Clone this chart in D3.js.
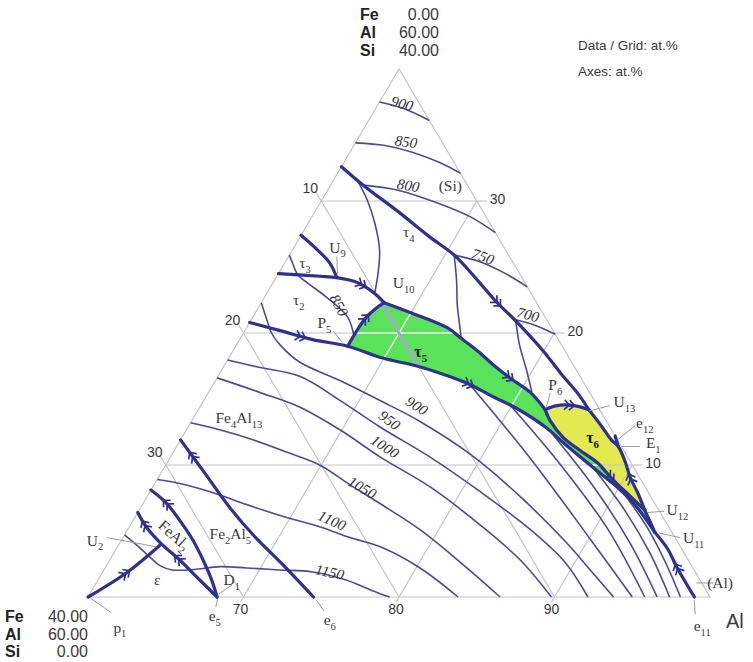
<!DOCTYPE html>
<meta charset="utf-8">
<style>
    body { margin: 0; background: #fff; }
    text { font-family: "Liberation Serif", "DejaVu Serif", serif; fill: #3a3a3a; }
    .sans { font-family: "Liberation Sans", Arial, sans-serif; }
    .grid { fill: none; stroke: #c4c4c4; stroke-width: 1.2; }
    .gridw { fill: none; stroke: #e8ffe8; stroke-width: 1.4; }
    .thin { fill: none; stroke: #4a4a9c; stroke-width: 1.6; }
    .thick { fill: none; stroke: #2e3190; stroke-width: 3.2; stroke-linejoin: round; stroke-linecap: round; }
    .lead { stroke: #9c9c9c; stroke-width: 1; }
    .arrow { fill: none; stroke: #2e3190; stroke-width: 1.7; }
</style>

<body>
    <script src="https://d3js.org/d3.v7.min.js"></script>
    <script>
        // every point is a composition [at.% Al, at.% Si], Fe is the balance

        // isotherms in the (Si) field
        var isoSi900 = [[60.0, 37.5], [61.8, 37.0], [63.9, 36.1]];
        var isoSi850 = [[60.0, 34.4], [62.0, 34.2], [64.0, 33.7], [66.2, 32.9], [67.9, 32.1]];
        var isoSi800 = [[62.1, 31.2], [64.6, 30.8], [67.7, 29.8], [70.2, 28.8], [72.4, 27.6]];
        var iso750 = [[70.6, 25.9], [72.5, 25.4], [74.6, 24.5], [76.5, 23.5]];
        var iso700 = [[77.0, 21.0], [78.4, 20.6], [80.1, 19.9]];
        var tau4Curve = [[61.7, 31.4], [62.9, 30.1], [64.3, 28.3], [65.6, 26.3], [66.4, 24.5], [66.9, 23.1]];
        var tau4Mid = [[70.6, 25.9], [71.7, 24.0], [72.7, 22.1], [73.6, 20.6], [74.2, 19.6]];
        var tau4Right = [[77.0, 21.0], [78.2, 19.1], [79.6, 17.2], [80.8, 15.5]];
        var iso850t2 = [[60.0, 25.9], [60.5, 25.3], [61.3, 24.4], [62.2, 23.8], [64.0, 22.7], [66.1, 21.2], [67.2, 19.8]];

        // isotherms in the Fe4Al13 / Fe2Al5 / FeAl2 / eps fields
        var iso900 = [[60.0, 22.3], [61.0, 21.0], [61.8, 20.0], [62.8, 19.1], [64.7, 17.8], [68.0, 16.4], [71.3, 14.9], [74.7, 13.3], [79.2, 10.8], [84.0, 7.6], [88.6, 4.2], [91.7, 1.7], [93.8, 0]];
        var iso950 = [[60.0, 17.95], [62.3, 17.4], [65.3, 16.7], [68.75, 14.9], [72.3, 12.9], [76.7, 10.6], [81.2, 8.0], [85.9, 5.1], [89.4, 2.6], [92.15, 0]];
        var iso1000 = [[60.0, 16.6], [63.3, 15.5], [66.4, 14.4], [69.9, 12.65], [73.5, 10.6], [77.9, 8.3], [82.5, 5.45], [86.4, 2.8], [89.8, 0]];
        var iso1050 = [[60.0, 13.2], [62.2, 12.65], [64.7, 11.9], [67.5, 10.9], [69.9, 10.0], [72.6, 8.5], [75.2, 7.1], [78.8, 5.1], [82.6, 2.65], [86.5, 0]];
        var iso1100 = [[60.0, 8.9], [61.6, 8.6], [64.1, 7.9], [66.7, 7.0], [69.2, 6.2], [72.3, 5.3], [74.6, 4.5], [76.9, 3.8], [80.25, 2.2], [83.8, 0]];
        var iso1150 = [[60.0, 4.7], [61.5, 3.7], [62.5, 3.0], [63.4, 2.4], [64.4, 2.05], [65.9, 2.1], [67.35, 2.3], [69.1, 2.2], [71.3, 2.05], [73.5, 1.9], [75.9, 1.3], [78.0, 0.5], [79.4, 0]];
        // lower isotherms leaving the tau5 valley
        var isoA = [[76.5, 16.1], [83.2, 10.5], [90.2, 4.3], [95.0, 0]];
        var isoB = [[79.8, 14.6], [85.4, 10.0], [90.9, 5.1], [95.8, 0]];
        var isoC = [[83.4, 12.6], [88.4, 8.3], [92.8, 4.1], [96.6, 0]];
        var isoD = [[87.25, 10.1], [91.2, 6.6], [94.5, 3.3], [97.4, 0]];
        var isoE = [[90.7, 7.7], [93.4, 5.2], [95.8, 2.65], [98.1, 0]];

        // monovariant lines
        var lineA = [[60.0, 32.6], [62.1, 31.2], [65.5, 29.1], [68.3, 27.3], [70.6, 25.9], [72.8, 24.2], [74.9, 22.5], [77.2, 20.8], [80.0, 18.6], [82.1, 16.8], [83.7, 15.5], [85.1, 14.2]];
        var lineB = [[60.0, 24.5], [61.4, 24.4], [62.8, 24.3], [63.9, 24.2], [65.2, 23.9], [66.1, 23.5], [67.0, 22.95], [67.9, 22.3]];
        var lineC = [[60.0, 27.4], [61.6, 26.3], [62.9, 25.3], [63.9, 24.2]];
        var lineD = [[60.0, 20.8], [62.2, 20.2], [64.7, 19.5], [67.2, 19.0], [69.9, 18.1], [72.4, 17.5], [74.9, 16.7], [76.5, 16.1], [78.4, 15.2], [80.4, 14.3], [83.1, 12.8], [84.7, 11.7], [87.9, 9.6], [89.9, 8.3], [91.9, 6.8], [94.0, 4.9]];
        var tau5Left = [[67.2, 19.0], [67.2, 20.2], [67.3, 21.2], [67.6, 21.9], [67.9, 22.3]];
        var tau5Top = [[67.9, 22.3], [70.1, 21.5], [72.9, 20.4], [74.2, 19.6], [75.8, 18.6], [77.4, 17.5], [79.0, 16.5], [80.7, 15.5], [82.3, 14.2]];
        var tau6Top = [[82.3, 14.2], [82.9, 14.5], [84.0, 14.5], [85.1, 14.2]];
        var tau6Left = [[82.3, 14.2], [83.1, 13.3], [84.5, 12.1], [86.1, 11.1], [87.7, 10.15], [89.3, 8.9], [91.1, 7.6], [92.5, 6.6]];
        var outerA = [[85.1, 14.2], [86.6, 12.9], [87.7, 11.9], [88.4, 11.4], [89.5, 10.15], [90.3, 9.1], [91.4, 7.9], [92.5, 6.6]];
        var outerB = [[92.5, 6.6], [93.3, 5.7], [94.0, 4.9]];
        var outerC = [[94.0, 4.9], [95.5, 3.6], [96.7, 2.3], [99.0, 0]];
        var e12Tick = [[87.8, 12.2], [88.4, 11.4]];
        var lineE = [[60.0, 11.9], [62.8, 9.4], [65.7, 6.8], [68.4, 4.6], [71.1, 2.6], [74.5, 0]];
        var lineF = [[60.0, 8.1], [61.5, 7.1], [63.0, 5.8], [64.6, 4.3], [66.0, 2.8], [67.3, 1.3], [68.3, 0]];
        var lineG = [[60.0, 6.4], [61.1, 5.3], [62.6, 4.1], [64.5, 2.8], [66.25, 1.5], [68.3, 0]];
        var lineH = [[60.0, 0], [61.6, 1.9], [62.7, 4.0]];
        var fe10Tie = [[67.7, 22.3], [72.4, 17.6]];

        var thinLines = [isoSi900, isoSi850, isoSi800, iso750, iso700, tau4Curve, tau4Mid, tau4Right, iso850t2,
            iso900, iso950, iso1000, iso1050, iso1100, iso1150, isoA, isoB, isoC, isoD, isoE];
        var thickLines = [lineA, lineB, lineC, lineD, tau5Left, tau5Top, tau6Top, tau6Left, outerA, outerB, outerC,
            e12Tick, lineE, lineF, lineG, lineH];

        // arrows: line, fraction of its length, reversed
        var arrows = [[lineB, 0.76, false], [tau5Left, 0.6, false], [lineD, 0.117, false], [lineD, 0.49, false],
            [tau5Top, 0.76, false], [lineA, 0.6, false], [tau6Top, 0.6, false], [tau6Left, 0.68, false],
            [outerA, 0.69, true], [outerC, 0.54, true], [lineE, 0.09, true], [lineF, 0.15, true],
            [lineG, 0.11, true], [lineG, 0.52, true], [lineH, 0.51, false]];

        // grid / tick values
        var feTicks = [10, 20, 30];
        var siTicks = [30, 20, 10];
        var alTicks = [70, 80, 90];

        // text labels: text, composition
        var phaseLabels = [["τ_4", [66.8, 27.65]], ["U_9", [62.8, 26.5]], ["τ_3", [61.3, 25.3]], ["U_10", [68.4, 23.8]],
            ["τ_2", [62.3, 22.5]], ["P_5", [64.8, 20.8]], ["P_6", [82.0, 16.1]], ["U_13", [87.1, 14.8]],
            ["e_12", [89.2, 13.2]], ["E_1", [90.5, 11.7]], ["U_12", [94.6, 6.6]], ["U_11", [96.7, 4.5]],
            ["(Al)", [100.1, 1.1]], ["e_11", [100.6, -2.2]], ["Fe_4Al_13", [62.9, 13.6]], ["Fe_2Al_5", [66.75, 4.8]],
            ["ε", [63.8, 1.3]], ["D_1", [68.6, 1.3]], ["U_2", [58.3, 4.3]], ["p_1", [63.2, -2.3]],
            ["e_5", [68.85, -1.4]], ["e_6", [76.4, -1.7]], ["(Si)", [67.7, 31.2]]];
        var boldLabels = [["τ_5", [72.1, 18.6]], ["τ_6", [86.4, 12.1]]];
        var isoLabels = [["900", [61.5, 37.4], 15], ["850", [63.2, 34.5], 8], ["800", [65.0, 31.2], 10],
            ["750", [72.5, 25.8], 20], ["700", [77.6, 21.4], 15], ["850", [65.1, 22.1], 62],
            ["900", [73.9, 14.5], 33], ["950", [72.7, 13.4], 36], ["1000", [73.4, 11.4], 33],
            ["1050", [73.5, 8.3], 30], ["1100", [72.8, 5.8], 24], ["1150", [74.6, 1.9], 12]];
        var rotLabels = [["FeAl_2", [63.2, 4.7], 42]];
        var leaders = [[[63.1, 25.8], [63.8, 24.5]], [[65.7, 20.15], [66.7, 19.3]], [[82.0, 15.45], [82.3, 14.3]],
            [[86.3, 14.5], [85.2, 14.1]], [[88.7, 13.0], [88.1, 11.9]], [[89.8, 11.4], [88.6, 11.4]],
            [[93.8, 6.5], [92.8, 6.4]], [[95.8, 4.5], [94.3, 4.85]], [[98.6, 1.06], [99.7, 1.06]],
            [[99.1, -0.23], [99.7, -1.3]], [[74.8, -0.23], [75.7, -1.06]], [[68.4, -0.15], [68.6, -0.76]],
            [[60.2, -0.08], [62.1, -1.2]], [[68.8, 0.9], [68.3, 0.23]], [[59.0, 4.5], [62.5, 3.8]]];

        var apexComp = ["0.00", "60.00", "40.00"];
        var leftComp = ["40.00", "60.00", "0.00"];
        var elements = ["Fe", "Al", "Si"];

        var width = 753, height = 662;
        var svg = d3.select("body").append("svg")
            .attr("width", width)
            .attr("height", height);

        var xAl = d3.scaleLinear().domain([60, 100]).range([88, 710]);
        var ySi = d3.scaleLinear().domain([0, 40]).range([597, 69]);
        function px(c) { return [xAl(c[0] + c[1] / 2), ySi(c[1])]; }

        var straight = d3.line().x(d => px(d)[0]).y(d => px(d)[1]);
        var smooth = d3.line().curve(d3.curveCatmullRom.alpha(0.5)).x(d => px(d)[0]).y(d => px(d)[1]);
        var ring = d3.line().curve(d3.curveLinearClosed).x(d => px(d)[0]).y(d => px(d)[1]);

        // fields
        var tau5 = tau5Left.concat(tau5Top.slice(1), tau6Left.slice(1), outerB.slice(1), lineD.slice(3).reverse().slice(1));
        var tau6 = tau6Top.concat(outerA.slice(1), tau6Left.slice().reverse().slice(1, -1));
        svg.append("path").attr("d", ring(tau5)).attr("fill", "#5ae35a");
        svg.append("path").attr("d", ring(tau6)).attr("fill", "#e3ea4f");
        svg.append("clipPath").attr("id", "clip5").append("path").attr("d", ring(tau5));

        // grid
        function drawGrid(g, cls) {
            feTicks.forEach(v => g.append("path").attr("class", cls).attr("d", straight([[60, 40 - v], [100 - v, 0]])));
            siTicks.forEach(v => g.append("path").attr("class", cls).attr("d", straight([[60, v], [100 - v, v]])));
            alTicks.forEach(a => g.append("path").attr("class", cls).attr("d", straight([[a, 0], [a, 100 - a]])));
        }
        var grid = svg.append("g");
        drawGrid(grid, "grid");
        grid.append("path").attr("class", "grid").attr("d", ring([[60, 40], [60, 0], [100, 0]]));
        drawGrid(svg.append("g").attr("clip-path", "url(#clip5)"), "gridw");

        // tick marks and tick labels
        feTicks.forEach(v => {
            var p = px([60, 40 - v]);
            grid.append("line").attr("class", "grid").attr("x1", p[0]).attr("y1", p[1]).attr("x2", p[0] - 6).attr("y2", p[1] - 10);
            svg.append("text").attr("class", "sans").attr("x", p[0] - 11).attr("y", p[1] - 13).attr("dy", "0.35em")
                .attr("text-anchor", "middle").attr("font-size", 14).text(v);
        });
        siTicks.forEach(v => {
            var p = px([100 - v, v]);
            grid.append("line").attr("class", "grid").attr("x1", p[0]).attr("y1", p[1]).attr("x2", p[0] + 10).attr("y2", p[1]);
            svg.append("text").attr("class", "sans").attr("x", p[0] + 13).attr("y", p[1] - 2).attr("dy", "0.35em")
                .attr("font-size", 14).text(v);
        });
        alTicks.forEach(a => {
            var p = px([a, 0]);
            grid.append("line").attr("class", "grid").attr("x1", p[0]).attr("y1", p[1]).attr("x2", p[0] - 3).attr("y2", p[1] + 5);
            svg.append("text").attr("class", "sans").attr("x", p[0] - 3).attr("y", p[1] + 12).attr("dy", "0.35em")
                .attr("text-anchor", "middle").attr("font-size", 14).text(a);
        });

        // tie line through tau5
        svg.append("path").attr("d", straight(fe10Tie)).attr("fill", "none")
            .attr("stroke", "#a7a7c6").attr("stroke-width", 3);

        // lines
        svg.append("g").selectAll("path").data(thinLines).enter().append("path")
            .attr("class", "thin").attr("d", smooth);
        svg.append("g").selectAll("path").data(thickLines).enter().append("path")
            .attr("class", "thick").attr("d", smooth);

        // double arrows
        var arrowG = svg.append("g");
        arrows.forEach(a => {
            var tmp = arrowG.append("path").attr("d", smooth(a[0]));
            var node = tmp.node(), L = node.getTotalLength();
            var s = a[1] * L;
            var p0 = node.getPointAtLength(Math.max(0, s - 1.5)), p1 = node.getPointAtLength(Math.min(L, s + 1.5));
            var c = node.getPointAtLength(s);
            tmp.remove();
            var ang = Math.atan2(p1.y - p0.y, p1.x - p0.x) * 180 / Math.PI + (a[2] ? 180 : 0);
            var ch = arrowG.append("g").attr("transform", "translate(" + c.x + "," + c.y + ") rotate(" + ang + ")");
            [-2, 3].forEach(o => ch.append("path").attr("class", "arrow")
                .attr("d", "M" + (o - 5) + ",-5L" + o + ",0L" + (o - 5) + ",5"));
        });

        // leader lines
        svg.append("g").selectAll("line").data(leaders).enter().append("line")
            .attr("class", "lead")
            .attr("x1", d => px(d[0])[0]).attr("y1", d => px(d[0])[1])
            .attr("x2", d => px(d[1])[0]).attr("y2", d => px(d[1])[1]);

        // text with subscripts, "_n" marks a subscript
        function rich(sel, str, size) {
            var shift = 0;
            str.split(/(_[0-9]+)/).filter(s => s).forEach(s => {
                if (s[0] === "_") {
                    sel.append("tspan").attr("font-size", size * 0.68).attr("dy", size * 0.3 - shift).text(s.slice(1));
                    shift = size * 0.3;
                } else {
                    sel.append("tspan").attr("font-size", size).attr("dy", -shift).text(s);
                    shift = 0;
                }
            });
        }
        function label(g, d, size, rot) {
            var p = px(d[1]);
            var t = g.append("text").attr("text-anchor", "middle")
                .attr("transform", "translate(" + p[0] + "," + p[1] + ")" + (rot ? " rotate(" + rot + ")" : ""))
                .attr("y", size * 0.35);
            rich(t, d[0], size);
            return t;
        }
        var lab = svg.append("g");
        phaseLabels.forEach(d => label(lab, d, 15.5));
        boldLabels.forEach(d => label(lab, d, 16).attr("font-weight", "bold").style("fill", "#111"));
        isoLabels.forEach(d => label(lab, d, 15, d[2]).attr("font-style", "italic").style("fill", "#333"));
        rotLabels.forEach(d => label(lab, d, 15.5, d[2]));

        // corner compositions
        var apex = px([60, 40]), left = px([60, 0]);
        elements.forEach((e, i) => {
            svg.append("text").attr("class", "sans").attr("x", apex[0] - 39).attr("y", 20 + i * 18)
                .attr("font-size", 16).attr("font-weight", "bold").style("fill", "#222").text(e);
            svg.append("text").attr("class", "sans").attr("x", apex[0] + 40).attr("y", 20 + i * 18)
                .attr("text-anchor", "end").attr("font-size", 16).text(apexComp[i]);
            svg.append("text").attr("class", "sans").attr("x", 5).attr("y", left[1] + 25 + i * 17.5)
                .attr("font-size", 16).attr("font-weight", "bold").style("fill", "#222").text(e);
            svg.append("text").attr("class", "sans").attr("x", left[0]).attr("y", left[1] + 25 + i * 17.5)
                .attr("text-anchor", "end").attr("font-size", 16).text(leftComp[i]);
        });
        var corner = px([100, 0]);
        svg.append("text").attr("class", "sans").attr("x", corner[0] + 16).attr("y", corner[1] + 31)
            .attr("font-size", 20).text("Al");
        svg.append("text").attr("class", "sans").attr("x", 578).attr("y", 50).attr("font-size", 13.5).text("Data / Grid: at.%");
        svg.append("text").attr("class", "sans").attr("x", 578).attr("y", 76).attr("font-size", 13.5).text("Axes: at.%");
    </script>
</body>
